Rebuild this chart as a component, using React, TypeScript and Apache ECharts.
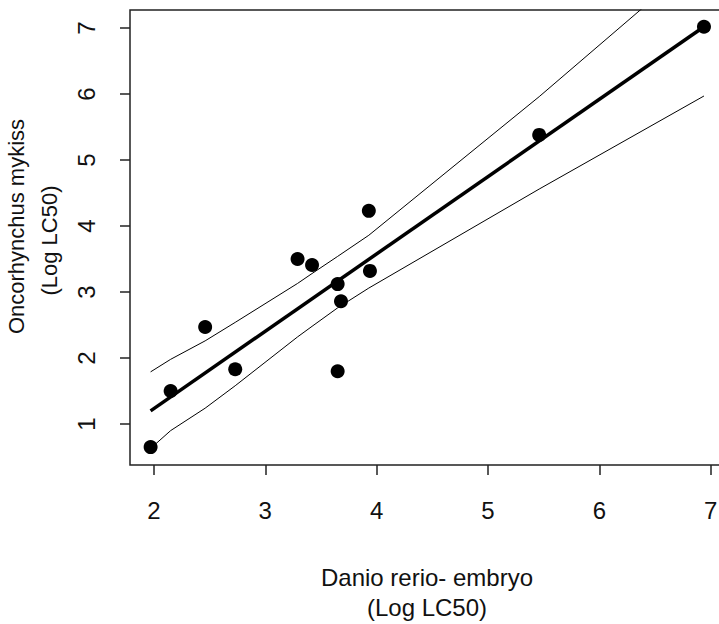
import React, { useEffect, useRef } from "react";
import * as echarts from "echarts";

// Observed points (Danio rerio embryo vs Oncorhynchus mykiss, Log LC50)
const pointX = [1.97, 2.15, 2.46, 2.73, 3.65, 3.29, 3.42, 3.65, 3.68, 3.93, 3.94, 5.46, 6.94];
const pointY = [0.65, 1.5, 2.47, 1.83, 1.8, 3.5, 3.41, 3.12, 2.86, 4.23, 3.32, 5.38, 7.02];

// Fitted regression line
const fitX = [1.97, 6.94];
const fitY = [1.2, 7.02];

// Confidence band
const bandX = [1.97, 2.15, 2.46, 2.73, 3.29, 3.42, 3.65, 3.93, 5.46, 6.94];
const bandUpper = [1.79, 1.98, 2.26, 2.54, 3.13, 3.28, 3.54, 3.86, 5.96, 8.1];
const bandLower = [0.63, 0.9, 1.24, 1.58, 2.32, 2.48, 2.76, 3.06, 4.56, 5.97];

const xTicks = [2, 3, 4, 5, 6, 7];
const yTicks = [1, 2, 3, 4, 5, 6, 7];

const FONT = "Liberation Sans, Arial, sans-serif";
const INK = "#111";

export default function App() {
  const ref = useRef<HTMLDivElement>(null);
  useEffect(() => {
    if (!ref.current) return;
    const chart = echarts.init(ref.current, undefined, { renderer: "svg" });
    const zip = (xs: number[], ys: number[]) => xs.map((x, i) => [x, ys[i]]);
    chart.setOption({
      animation: false,
      backgroundColor: "#fff",
      grid: {
        left: 130,
        top: 10,
        right: -5,
        bottom: 159,
        show: true,
        borderColor: "#222",
        borderWidth: 1.5,
        containLabel: false,
        outerBoundsMode: "none",
      },
      xAxis: {
        type: "value",
        min: 1.785,
        max: 7.12,
        splitLine: { show: false },
        axisLine: { show: false },
        axisTick: {
          show: true,
          length: 10,
          customValues: xTicks,
          lineStyle: { color: "#222", width: 1.5 },
        },
        axisLabel: {
          customValues: xTicks,
          margin: 33,
          fontSize: 24,
          fontFamily: FONT,
          color: INK,
        },
        name: "Danio rerio- embryo\n(Log LC50)",
        nameLocation: "middle",
        nameGap: 97,
        nameTextStyle: { fontSize: 24, fontFamily: FONT, color: INK, lineHeight: 30 },
      },
      yAxis: {
        type: "value",
        min: 0.379,
        max: 7.273,
        splitLine: { show: false },
        axisLine: { show: false },
        axisTick: {
          show: true,
          length: 10,
          customValues: yTicks,
          lineStyle: { color: "#222", width: 1.5 },
        },
        axisLabel: {
          customValues: yTicks,
          rotate: 90,
          margin: 32,
          fontSize: 24,
          fontFamily: FONT,
          color: INK,
        },
        name: "{a|Oncorhynchus mykiss}\n{b|(Log LC50)}",
        nameLocation: "middle",
        nameGap: 56,
        nameRotate: 90,
        nameTextStyle: {
          fontSize: 22,
          fontFamily: FONT,
          color: INK,
          lineHeight: 33,
          rich: {
            a: { fontSize: 22, fontFamily: FONT, color: INK, lineHeight: 33, padding: [0, 6, 0, 28] },
            b: { fontSize: 22, fontFamily: FONT, color: INK, lineHeight: 33, padding: [0, 6, 0, 0] },
          },
        },
      },
      series: [
        {
          type: "line",
          data: zip(bandX, bandUpper),
          symbol: "none",
          clip: true,
          lineStyle: { color: "#000", width: 1 },
          z: 2,
        },
        {
          type: "line",
          data: zip(bandX, bandLower),
          symbol: "none",
          clip: true,
          lineStyle: { color: "#000", width: 1 },
          z: 2,
        },
        {
          type: "line",
          data: zip(fitX, fitY),
          symbol: "none",
          clip: true,
          lineStyle: { color: "#000", width: 3.5 },
          z: 3,
        },
        {
          type: "scatter",
          data: zip(pointX, pointY),
          symbol: "circle",
          symbolSize: 14,
          itemStyle: { color: "#000", opacity: 1 },
          z: 4,
        },
      ],
    });
    return () => chart.dispose();
  }, []);
  return (
    <div
      ref={ref}
      style={{ position: "fixed", left: 0, top: 0, width: 719, height: 624, background: "#fff" }}
    />
  );
}
